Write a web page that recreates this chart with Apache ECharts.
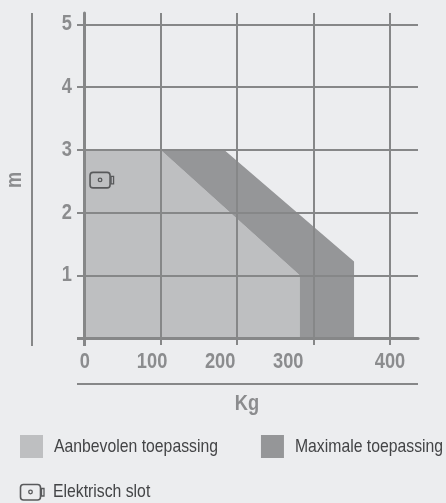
<!DOCTYPE html>
<html><head><meta charset="utf-8">
<script src="https://cdn.jsdelivr.net/npm/echarts@6/dist/echarts.min.js"></script>
<style>html,body{margin:0;padding:0;background:#ecedef}#c{width:446px;height:503px}</style>
</head><body><div id="c"></div>
<script>
const recommended = [[0,0],[0,3],[100,3],[282,1],[282,0]];
const maximal = [[100,3],[183,3],[353,1.22],[353,0],[282,0],[282,1]];
const lockPoint = [[21,2.52]];
const xTicks = [0,100,200,300,400];
const yTicks = [0,1,2,3,4,5];
const xLabelSpots = [1,89,178,267,400];
const xLabels = ['0','100','200','300','400'];
const yLabelSpots = [1,2,3,4,5];
const seriesNames = ['Aanbevolen toepassing','Maximale toepassing'];
const lockName = 'Elektrisch slot';
const xName = 'Kg', yName = 'm';

// The reference uses a condensed face; no narrow font is installed, so text is drawn horizontally condensed.
const SQUEEZE = 0.83;
(function(){
  const P = CanvasRenderingContext2D.prototype, f = P.fillText, m = P.measureText;
  P.fillText = function(t,x,y){ this.save(); this.translate(x,y); this.scale(SQUEEZE,1); f.call(this,t,0,0); this.restore(); };
  P.measureText = function(t){ const r = m.call(this,t); return {width:r.width*SQUEEZE,
    actualBoundingBoxAscent:r.actualBoundingBoxAscent,actualBoundingBoxDescent:r.actualBoundingBoxDescent,
    actualBoundingBoxLeft:r.actualBoundingBoxLeft*SQUEEZE,actualBoundingBoxRight:r.actualBoundingBoxRight*SQUEEZE}; };
})();

const FONT = '"Liberation Sans",Arial,sans-serif';
const LINE = '#868788', LABEL = '#8b8c8e', TXT = '#434446', ICON = '#58595b';
const LIGHT = '#bebfc1', DARK = '#959698';

function lockIcon(cx, cy){
  return [
    {type:'rect',shape:{x:cx-10,y:cy-7.5,width:20,height:15.5,r:3},style:{fill:'none',stroke:ICON,lineWidth:1.6}},
    {type:'circle',shape:{cx:cx,cy:cy,r:1.8},style:{fill:'none',stroke:ICON,lineWidth:1.3}},
    {type:'rect',shape:{x:cx+11,y:cy-3.5,width:2.5,height:7.5},style:{fill:'none',stroke:ICON,lineWidth:1.3}}
  ];
}
function poly(pts,color){
  return function(params,api){
    if(params.dataIndex!==0) return null;
    return {type:'polygon',shape:{points:pts.map(p=>api.coord(p))},style:{fill:color},silent:true};
  };
}
const chart = echarts.init(document.getElementById('c'),null,{renderer:'canvas'});
chart.setOption({
  animation:false,
  backgroundColor:'#ecedef',
  textStyle:{fontFamily:FONT},
  grid:{left:84,right:28,top:13,bottom:165,containLabel:false},
  legend:{
    left:20,top:435,width:426,padding:0,itemWidth:23,itemHeight:23,itemGap:43,icon:'rect',
    data:seriesNames,selectedMode:false,
    textStyle:{fontFamily:FONT,fontSize:19,color:TXT,padding:[0,0,0,6]}
  },
  xAxis:[{
    type:'value',min:0,max:436.6,z:5,
    axisLine:{show:true,onZero:false,lineStyle:{color:LINE,width:3}},
    axisTick:{show:true,length:7,customValues:xTicks,lineStyle:{color:LINE,width:2}},
    axisLabel:{show:false},
    splitLine:{show:true,lineStyle:{color:LINE,width:2}}
  },{
    type:'value',min:0,max:436.6,position:'bottom',
    axisLine:{show:false},axisTick:{show:false},splitLine:{show:false},
    axisLabel:{show:true,margin:15,customValues:xLabelSpots,
      formatter:(v)=>xLabels[xLabelSpots.indexOf(v)],
      fontFamily:FONT,fontWeight:'bold',fontSize:22,color:LABEL}
  }],
  yAxis:[{
    type:'value',min:0,max:5.18,z:5,
    axisLine:{show:true,onZero:false,lineStyle:{color:LINE,width:3}},
    axisTick:{show:true,length:7,customValues:yTicks,lineStyle:{color:LINE,width:2}},
    axisLabel:{show:true,margin:12,padding:[2,0,0,0],customValues:yLabelSpots,
      fontFamily:FONT,fontWeight:'bold',fontSize:22,color:LABEL},
    splitLine:{show:true,lineStyle:{color:LINE,width:2}}
  }],
  series:[
    {name:seriesNames[0],type:'custom',coordinateSystem:'cartesian2d',data:[recommended[0]],itemStyle:{color:LIGHT},renderItem:poly(recommended,LIGHT),z:2},
    {name:seriesNames[1],type:'custom',coordinateSystem:'cartesian2d',data:[maximal[0]],itemStyle:{color:DARK},renderItem:poly(maximal,DARK),z:2},
    {name:lockName,type:'custom',coordinateSystem:'cartesian2d',data:lockPoint,z:6,
      renderItem:(params,api)=>{const c=api.coord(lockPoint[params.dataIndex]);return {type:'group',children:lockIcon(c[0],c[1])};}}
  ],
  graphic:[
    {type:'line',shape:{x1:32,y1:13,x2:32,y2:346},style:{stroke:LINE,lineWidth:2},silent:true},
    {type:'line',shape:{x1:77,y1:384,x2:418,y2:384},style:{stroke:LINE,lineWidth:2},silent:true},
    {type:'line',z:10,shape:{x1:84.5,y1:338,x2:84.5,y2:346},style:{stroke:LINE,lineWidth:3},silent:true},
    {type:'line',z:10,shape:{x1:77,y1:338.5,x2:86,y2:338.5},style:{stroke:LINE,lineWidth:3},silent:true},
    {type:'text',x:14.5,y:180,rotation:Math.PI/2,style:{text:yName,font:'bold 22px '+FONT,fill:LABEL,textAlign:'center',textVerticalAlign:'middle'},silent:true},
    {type:'text',x:247,y:404,style:{text:xName,font:'bold 22px '+FONT,fill:LABEL,textAlign:'center',textVerticalAlign:'middle'},silent:true},
    {type:'text',x:53,y:492,style:{text:lockName,font:'19px '+FONT,fill:TXT,textAlign:'left',textVerticalAlign:'middle'},silent:true},
    {type:'group',x:0,y:0,children:lockIcon(30.5,492)}
  ]
});
</script></body></html>
